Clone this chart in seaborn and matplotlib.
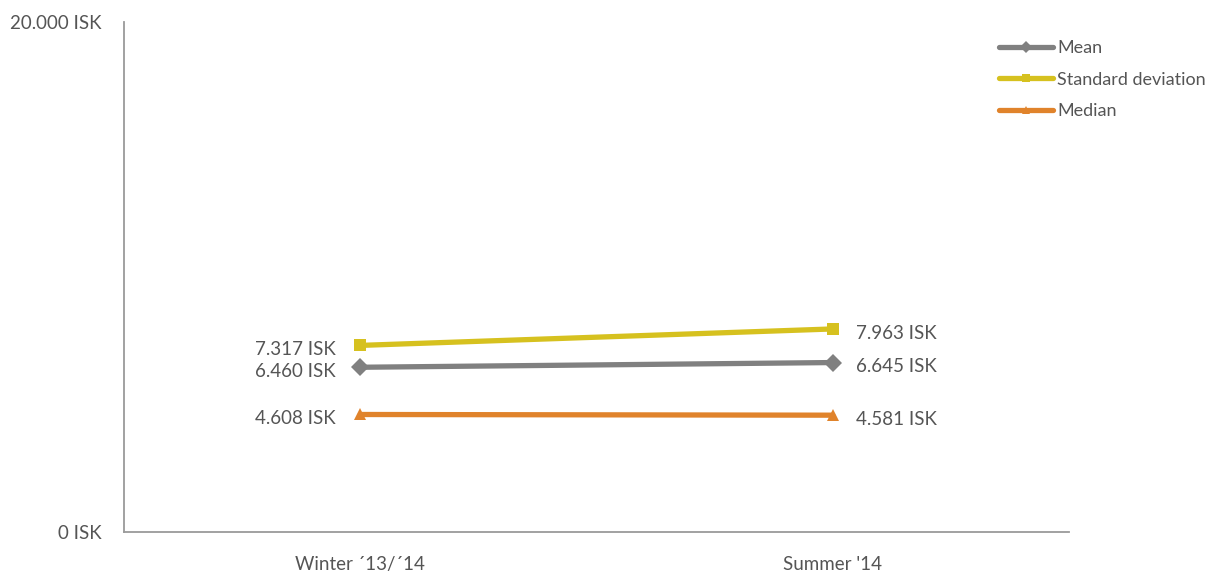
import matplotlib
matplotlib.use("Agg")
import matplotlib.pyplot as plt
import seaborn as sns
import pandas as pd

# Seasonal spending statistics (ISK)
seasons = ["Winter \u00b413/\u00b414", "Summer '14"]
mean_vals = [6460, 6645]
std_vals = [7317, 7963]
median_vals = [4608, 4581]
series_names = ["Mean", "Standard deviation", "Median"]

df = pd.DataFrame({
    "season": seasons * 3,
    "x": [0, 1] * 3,
    "value": mean_vals + std_vals + median_vals,
    "stat": [series_names[0]] * 2 + [series_names[1]] * 2 + [series_names[2]] * 2,
})

sns.set_theme(style="white")
plt.rcParams["font.family"] = ["Lato", "DejaVu Sans"]

text_col = "#555555"
axis_col = "#9a9a9a"
palette = {"Mean": "#808080", "Standard deviation": "#d6c11f", "Median": "#e0832b"}
markers = {"Mean": "D", "Standard deviation": "s", "Median": "^"}

fig = plt.figure(figsize=(12.22, 5.76), dpi=100)
ax = fig.add_axes([0.1015, 0.0764, 0.7733, 0.8854])

sns.lineplot(data=df, x="x", y="value", hue="stat", style="stat",
             hue_order=series_names, style_order=series_names,
             palette=palette, markers=markers, dashes=False,
             linewidth=3.8, markersize=9, markeredgewidth=0, ax=ax)

ax.set_xlim(-0.5, 1.5)
ax.set_ylim(0, 20000)

# Value labels beside each point
def fmt(v):
    return f"{v:,.0f}".replace(",", ".") + " ISK"

for vals in (mean_vals, std_vals, median_vals):
    ax.annotate(fmt(vals[0]), (0, vals[0]), xytext=(-18, -3), textcoords="offset points",
                ha="right", va="center", fontsize=13.5, color=text_col)
    ax.annotate(fmt(vals[1]), (1, vals[1]), xytext=(17, -3), textcoords="offset points",
                ha="left", va="center", fontsize=13.5, color=text_col)

# Axes styling
for side in ("top", "right"):
    ax.spines[side].set_visible(False)
for side in ("left", "bottom"):
    ax.spines[side].set_color(axis_col)
    ax.spines[side].set_linewidth(1.3)

ax.set_yticks([0, 20000])
ax.set_yticklabels(["0 ISK", "20.000 ISK"], fontsize=13.5, color=text_col)
ax.tick_params(axis="y", direction="out", length=6, width=1.3, color=axis_col, pad=10)

ax.set_xticks([0, 1])
ax.set_xticklabels(seasons, fontsize=13.5, color=text_col)
ax.set_xticks([-0.5, 0.5, 1.5], minor=True)
ax.tick_params(axis="x", which="major", length=0, pad=17)
ax.tick_params(axis="x", which="minor", direction="out", length=6, width=1.3, color=axis_col)

ax.set_xlabel("")
ax.set_ylabel("")

leg = ax.legend(title=None, loc="upper left", bbox_to_anchor=(0.918, 0.978),
                frameon=False, fontsize=13, handlelength=3.0, handletextpad=0.25,
                labelspacing=0.85, markerscale=0.7, borderaxespad=0)
for t in leg.get_texts():
    t.set_color(text_col)

fig.savefig("out.png", dpi=100)
